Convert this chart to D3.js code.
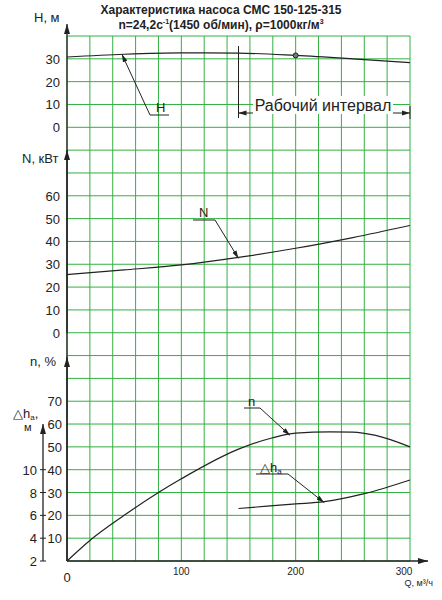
<!DOCTYPE html>
<html><head><meta charset="utf-8">
<script src="https://cdn.jsdelivr.net/npm/d3@7"></script>
<style>body{margin:0;background:#fff}text{font-family:Arial,"Liberation Sans",sans-serif;fill:#222}</style>
</head><body>
<script>
// Pump curve data
var qH = [0, 50, 100, 150, 200, 250, 300];
var headH = [30.8, 32, 32.6, 32.5, 31.5, 30, 28.3];
var qN = [0, 50, 100, 150, 200, 250, 300];
var powerN = [25.5, 27.5, 29.7, 33, 37, 41.7, 47];
var qEta = [0, 20, 50, 80, 100, 150, 180, 200, 230, 250, 270, 300];
var eta = [0, 9, 20, 30, 36, 49, 54, 56, 56.6, 56.5, 55, 50];
var qDh = [150, 200, 225, 260, 300];
var dh = [6.6, 7.0, 7.2, 7.9, 9.1];
var hTicks = [0, 10, 20, 30];
var nTicks = [0, 10, 20, 30, 40, 50, 60];
var etaTicks = [10, 20, 30, 40, 50, 60, 70];
var dhTicks = [2, 4, 6, 8, 10];
var qTicks = [0, 100, 200, 300];

var w = 442, h = 600;
var svg = d3.select('body').append('svg').attr('width', w).attr('height', h);

var x = d3.scaleLinear().domain([0, 300]).range([67, 410]);
var row = d3.scaleLinear().domain([0, 23]).range([561, 36]);
// each panel maps its values onto grid rows
var yH = function(v) { return row(19 + v / 10); };
var yN = function(v) { return row(10 + v / 10); };
var yE = function(v) { return row(v / 10); };
var yD = function(v) { return row((v - 2) / 2); };

var green = '#33b040';
var g = svg.append('g');
d3.range(0, 301, 20).forEach(function(q) {
    g.append('line').attr('x1', x(q)).attr('x2', x(q)).attr('y1', row(23)).attr('y2', row(0))
     .attr('stroke', green).attr('stroke-width', 1);
});
d3.range(0, 24).forEach(function(r) {
    g.append('line').attr('x1', x(0)).attr('x2', x(300)).attr('y1', row(r)).attr('y2', row(r))
     .attr('stroke', green).attr('stroke-width', 1);
});

svg.append('defs').append('marker').attr('id', 'ar').attr('viewBox', '0 0 10 10')
   .attr('refX', 10).attr('refY', 5).attr('markerWidth', 8).attr('markerHeight', 8).attr('orient', 'auto')
   .append('path').attr('d', 'M0,2L10,5L0,8z').attr('fill', '#222');

function arrowLine(x1, y1, x2, y2, sw) {
    svg.append('line').attr('x1', x1).attr('y1', y1).attr('x2', x2).attr('y2', y2)
       .attr('stroke', '#222').attr('stroke-width', sw || 1).attr('marker-end', 'url(#ar)');
}
// axes
arrowLine(x(0), row(0), x(0), 24, 1.3);
arrowLine(x(0), row(10), x(0), 150, 1.3);
arrowLine(x(0), row(0), x(0), 357, 1.3);
arrowLine(x(0), row(0), 428, row(0), 1.3);
arrowLine(43, row(0), 43, 424, 1.3);

function ticks(vals, yf, tx, left) {
    vals.forEach(function(v) {
        svg.append('text').attr('x', tx).attr('y', yf(v) + 5).attr('text-anchor', 'end')
           .attr('font-size', 13).text(v);
        if (left) svg.append('line').attr('x1', 40).attr('x2', 46).attr('y1', yf(v)).attr('y2', yf(v)).attr('stroke', '#222');
    });
}
ticks(hTicks, yH, 60);
ticks(nTicks, yN, 60);
ticks(etaTicks, yE, 62);
ticks(dhTicks, yD, 37, true);

qTicks.forEach(function(q, i) {
    svg.append('text').attr('x', i === 3 ? x(q) - 6 : x(q)).attr('y', q === 0 ? 582 : 575)
       .attr('text-anchor', 'middle').attr('font-size', q === 0 ? 13 : 10).text(q);
});
svg.append('text').attr('x', 433).attr('y', 586).attr('text-anchor', 'end').attr('font-size', 9).text('Q, м³/ч');

svg.append('text').attr('x', 34).attr('y', 22).attr('font-size', 13).text('H, м');
svg.append('text').attr('x', 22).attr('y', 163).attr('font-size', 13).text('N, кВт');
svg.append('text').attr('x', 30).attr('y', 366).attr('font-size', 13).text('n, %');
svg.append('text').attr('x', 13).attr('y', 418).attr('font-size', 13).html('△h<tspan font-size="8" dy="2">a</tspan><tspan dy="-2">,</tspan>');
svg.append('text').attr('x', 24).attr('y', 431).attr('font-size', 11).text('м');

svg.append('text').attr('x', 221).attr('y', 14).attr('text-anchor', 'middle').attr('font-size', 12).attr('font-weight', 'bold')
   .text('Характеристика насоса СМС 150-125-315');
svg.append('text').attr('x', 221).attr('y', 29).attr('text-anchor', 'middle').attr('font-size', 12).attr('font-weight', 'bold')
   .html('n=24,2c<tspan font-size="7" dy="-5">-1</tspan><tspan dy="5">(1450 об/мин), ρ=1000кг/м</tspan><tspan font-size="7" dy="-5">3</tspan>');

function curve(qs, vs, yf) {
    svg.append('path').datum(qs.map(function(q, i) { return [q, vs[i]]; }))
       .attr('fill', 'none').attr('stroke', '#222').attr('stroke-width', 1.2)
       .attr('d', d3.line().x(function(d) { return x(d[0]); }).y(function(d) { return yf(d[1]); }).curve(d3.curveMonotoneX));
}
curve(qH, headH, yH);
curve(qN, powerN, yN);
curve(qEta, eta, yE);
curve(qDh, dh, yD);
svg.append('circle').attr('cx', x(200)).attr('cy', yH(31.5)).attr('r', 2.5).attr('fill', '#777').attr('stroke', '#222');

// working interval
svg.append('line').attr('x1', x(150)).attr('x2', x(150)).attr('y1', 46).attr('y2', 118).attr('stroke', '#222');
svg.append('line').attr('x1', x(300)).attr('x2', x(300)).attr('y1', 106).attr('y2', 119).attr('stroke', '#222');
svg.append('rect').attr('x', 253).attr('y', 96).attr('width', 140).attr('height', 18).attr('fill', '#fff');
svg.append('text').attr('x', 323).attr('y', 111).attr('text-anchor', 'middle').attr('font-size', 16).text('Рабочий интервал');
arrowLine(253, 113, x(150), 113);
arrowLine(393, 113, x(300), 113);

// leaders
function leader(lx1, lx2, ly, tx, ty, label, ax, ay, fs) {
    svg.append('line').attr('x1', lx1).attr('x2', lx2).attr('y1', ly).attr('y2', ly).attr('stroke', '#222');
    svg.append('text').attr('x', tx).attr('y', ty).attr('font-size', fs || 13).html(label);
    arrowLine(ax[0], ax[1], x(ay[0]), ay[1]);
}
leader(150, 169, 115, 156, 112, 'H', [150, 115], [48, yH(32)]);
leader(193, 215, 220, 199, 217, 'N', [215, 220], [150, yN(33) + 1]);
leader(244, 260, 408, 248, 406, 'n', [260, 408], [195, yE(55.5) + 1]);
leader(256, 288, 474, 260, 472, '△h<tspan font-size="8" dy="2">a</tspan>', [288, 474], [225, yD(7.2) + 1]);
</script>
</body></html>
